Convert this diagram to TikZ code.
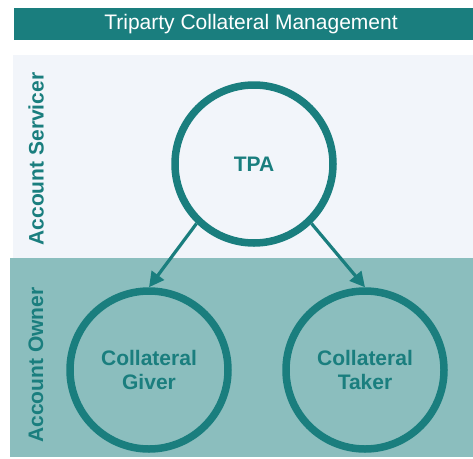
\documentclass[tikz,border=0pt]{standalone}
\usepackage{fontspec}
\setmainfont{Liberation Sans}
\usetikzlibrary{positioning}
\usetikzlibrary{arrows.meta}
\definecolor{teal}{RGB}{26,126,126}
\definecolor{servbg}{RGB}{242,245,250}
\definecolor{ownbg}{RGB}{139,190,190}

\begin{document}
\begin{tikzpicture}[x=1pt,y=-1pt,
		party/.style={draw=teal, circle, line width=7.5pt, minimum size=158pt,
			font=\fontsize{21}{24}\selectfont\bfseries, text=teal, align=center},
		role/.style={rotate=90, font=\fontsize{21}{24}\selectfont\bfseries, text=teal},
		flow/.style={draw=teal, line width=3.2pt, -{Triangle[length=15pt,width=15pt]}}]
		\useasboundingbox (0,0) rectangle (473,458);
		% bands
		\fill[teal] (14,8) rectangle (473,40);
		\fill[servbg] (13,55) rectangle (473,258);
		\fill[ownbg] (10,258) rectangle (473,457);
		\node (title) at (251,24) [text=white, font=\fontsize{21}{24}\selectfont] {Triparty Collateral Management};
		\node (serv) at (36,159) [role] {Account Servicer};
		\node (own) at (36,365) [role] {Account Owner};
		% parties
		\node (tpa) at (254,164) [party] {TPA};
		\node (giver) [party, on grid, below left=206pt and 105pt of tpa] {Collateral\\Giver};
		\node (taker) [party, on grid, below right=206pt and 111pt of tpa] {Collateral\\Taker};
		\draw[flow] (tpa.226) -- (giver.north);
		\draw[flow] (tpa.314) -- (taker.north);
\end{tikzpicture}
\end{document}
